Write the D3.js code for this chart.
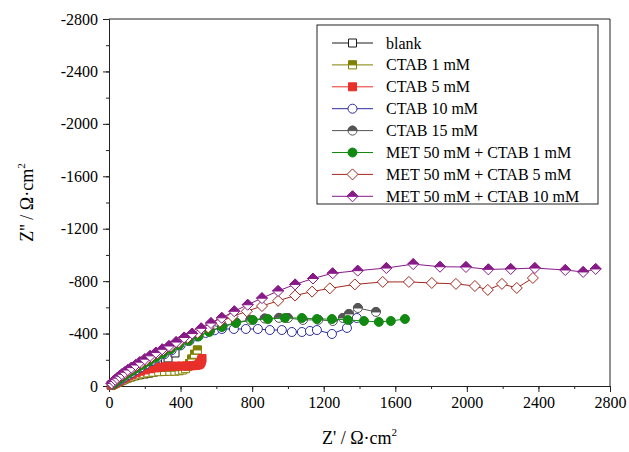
<!DOCTYPE html>
<html>
<head>
<meta charset="utf-8">
<script src="https://cdn.jsdelivr.net/npm/d3@7"></script>
<style>
body { margin: 0; background: #fff; }
text { font-family: "Liberation Serif", "Times New Roman", serif; fill: #000; }
</style>
</head>
<body>
<svg id="chart" width="629" height="452"></svg>
<script>
// Z' and -Z'' pairs (ohm cm2)
const blank = [[12,6],[20,12],[30,19],[42,27],[55,35],[70,44],[86,53],[104,62],[124,71],[146,79],[170,86],[196,92],[222,98],[248,106],[270,120],[288,142],[302,172],[316,196],[330,214],[369,252]];
const ctab1 = [[15,6],[25,12],[36,19],[48,27],[62,36],[78,46],[96,56],[116,66],[138,76],[162,85],[188,93],[216,100],[246,105],[278,109],[310,111],[340,112],[368,113],[392,116],[412,122],[428,132],[440,148],[450,172],[462,206],[478,242],[494,275]];
const ctab5 = [[15,8],[25,16],[35,24],[47,33],[60,43],[75,54],[92,66],[110,78],[130,90],[152,102],[176,113],[202,123],[230,132],[258,139],[288,144],[318,148],[348,150],[378,152],[405,152],[430,153],[452,154],[470,155],[485,157],[497,160],[505,166],[510,174],[514,184],[517,196],[520,210]];
const ctab10 = [[20,12],[35,24],[50,36],[66,50],[84,65],[104,82],[126,100],[150,120],[176,142],[205,165],[237,190],[272,216],[310,243],[350,272],[400,310],[450,345],[492,378],[540,405],[590,425],[631,435],[698,435],[765,435],[832,435],[899,427],[966,427],[1022,412],[1078,412],[1123,420],[1162,427],[1246,397],[1330,443],[1385,519]];
const ctab15 = [[18,14],[32,27],[47,41],[63,56],[82,73],[103,92],[127,113],[153,136],[182,160],[214,186],[250,214],[290,244],[335,276],[385,310],[440,345],[500,382],[565,420],[635,455],[710,485],[790,505],[870,515],[950,520],[1000,519],[1084,504],[1170,505],[1251,496],[1307,519],[1341,550],[1391,595],[1492,565]];
const met1 = [[20,15],[35,30],[50,45],[68,62],[88,80],[110,100],[135,120],[162,142],[192,165],[225,190],[262,218],[302,248],[345,280],[392,312],[445,345],[500,378],[560,412],[631,450],[709,481],[804,504],[888,511],[983,519],[1078,519],[1162,511],[1246,511],[1335,504],[1425,496],[1508,489],[1575,496],[1654,511]];
const met5 = [[15,18],[25,30],[35,42],[46,55],[60,70],[75,85],[92,100],[110,118],[132,136],[155,155],[180,176],[208,198],[238,222],[270,248],[305,275],[345,302],[390,334],[440,368],[495,406],[555,446],[620,490],[690,530],[770,570],[855,610],[945,650],[1040,690],[1135,720],[1234,745],[1374,775],[1530,794],[1676,794],[1804,786],[1939,779],[2045,763],[2117,733],[2196,779],[2279,748],[2369,824]];
const met10 = [[15,20],[25,35],[35,48],[45,60],[58,75],[72,90],[88,105],[105,122],[125,140],[148,160],[172,182],[200,205],[230,230],[262,255],[297,280],[335,305],[375,335],[420,370],[465,400],[515,440],[570,480],[630,520],[700,570],[775,620],[855,670],[945,725],[1040,775],[1140,820],[1250,860],[1390,880],[1550,900],[1700,930],[1850,910],[1995,908],[2120,890],[2245,893],[2380,900],[2550,885],[2650,870],[2720,893]];

const names = ['blank', 'CTAB 1 mM', 'CTAB 5 mM', 'CTAB 10 mM', 'CTAB 15 mM',
  'MET 50 mM + CTAB 1 mM', 'MET 50 mM + CTAB 5 mM', 'MET 50 mM + CTAB 10 mM'];
const values = [blank, ctab1, ctab5, ctab10, ctab15, met1, met5, met10];
const xTicks = [0, 400, 800, 1200, 1600, 2000, 2400, 2800];
const yTicks = [0, 400, 800, 1200, 1600, 2000, 2400, 2800];

const styles = [
  { color: '#1a1a1a', shape: 'square', fill: 'open' },
  { color: '#808000', shape: 'square', fill: 'half' },
  { color: '#e8302a', shape: 'square', fill: 'solid' },
  { color: '#2e2e9e', shape: 'circle', fill: 'open' },
  { color: '#555555', shape: 'circle', fill: 'half' },
  { color: '#128a12', shape: 'circle', fill: 'solid' },
  { color: '#a3281e', shape: 'diamond', fill: 'open' },
  { color: '#881a88', shape: 'diamond', fill: 'half' }
];

const shapes = {
  square: { full: 'M-4,-4H4V4H-4Z', top: 'M-4,-4H4V0H-4Z' },
  circle: { full: 'M-4.5,0A4.5,4.5 0 1 1 4.5,0A4.5,4.5 0 1 1 -4.5,0Z', top: 'M-4.5,0A4.5,4.5 0 0 1 4.5,0Z' },
  diamond: { full: 'M0,-5.5L5.5,0L0,5.5L-5.5,0Z', top: 'M0,-5.5L5.5,0L-5.5,0Z' }
};

const serif = '"Liberation Serif", "Times New Roman", serif';
const margin = { left: 109, right: 19, top: 19, bottom: 66 };
const W = 629, H = 452;

const svg = d3.select('#chart');
const x = d3.scaleLinear().domain([0, 2800]).range([margin.left, W - margin.right]);
const y = d3.scaleLinear().domain([0, 2800]).range([H - margin.bottom, margin.top]);

function marker(g, st) {
  const s = shapes[st.shape];
  g.append('path').attr('d', s.full)
    .attr('fill', st.fill === 'solid' ? st.color : '#fff')
    .attr('stroke', st.color).attr('stroke-width', 1);
  if (st.fill === 'half') {
    g.append('path').attr('d', s.top).attr('fill', st.color)
      .attr('stroke', st.color).attr('stroke-width', 1);
  }
}

// axes
const fmtY = d => d === 0 ? '0' : '-' + d;
const minor = d3.range(0, 2801, 200);

svg.append('g').attr('transform', `translate(0,${y(0)})`)
  .call(d3.axisBottom(x).tickValues(xTicks).tickSize(6).tickPadding(5).tickFormat(d3.format('d')));
svg.append('g').attr('transform', `translate(0,${y(0)})`)
  .call(d3.axisBottom(x).tickValues(minor).tickSize(3).tickFormat(''))
  .select('.domain').remove();
svg.append('g').attr('transform', `translate(${x(0)},0)`)
  .call(d3.axisLeft(y).tickValues(yTicks).tickSize(6).tickPadding(5).tickFormat(fmtY));
svg.append('g').attr('transform', `translate(${x(0)},0)`)
  .call(d3.axisLeft(y).tickValues(minor).tickSize(3).tickFormat(''))
  .select('.domain').remove();

svg.selectAll('g[font-family]').attr('font-family', serif).attr('font-size', 16);
svg.selectAll('.tick text').attr('fill', '#000')
  .style('font-family', serif).style('font-size', '16px');
svg.selectAll('.domain, .tick line').attr('stroke', '#222');

// frame top/right
svg.append('path')
  .attr('d', `M${x(0)},${y(2800)}H${x(2800)}V${y(0)}`)
  .attr('fill', 'none').attr('stroke', '#222');

// series
const line = d3.line().x(d => x(d[0])).y(d => y(d[1]));
values.forEach((data, i) => {
  const st = styles[i];
  const g = svg.append('g');
  g.append('path').datum(data).attr('d', line)
    .attr('fill', 'none').attr('stroke', st.color).attr('stroke-width', 1);
  g.selectAll('g.pt').data(data).enter().append('g')
    .attr('class', 'pt')
    .attr('transform', d => `translate(${x(d[0])},${y(d[1])})`)
    .each(function() { marker(d3.select(this), st); });
});

// legend
const lg = svg.append('g');
lg.append('rect').attr('x', 317).attr('y', 25).attr('width', 281).attr('height', 179)
  .attr('fill', '#fff').attr('stroke', '#222');
names.forEach((n, i) => {
  const st = styles[i];
  const yy = 43 + i * 21.9;
  lg.append('line').attr('x1', 332).attr('x2', 373).attr('y1', yy).attr('y2', yy)
    .attr('stroke', st.color).attr('stroke-width', 1);
  marker(lg.append('g').attr('transform', `translate(352.5,${yy})`), st);
  lg.append('text').attr('x', 386).attr('y', yy + 5.5).style('font-size', '16px').text(n);
});

// axis titles
const xt = svg.append('text').attr('x', (x(0) + x(2800)) / 2).attr('y', 444)
  .attr('text-anchor', 'middle').style('font-size', '18px');
xt.append('tspan').text("Z' / \u03A9\u00B7cm");
xt.append('tspan').attr('dy', -8).style('font-size', '11px').text('2');

const yt = svg.append('text')
  .attr('transform', `translate(33,${(y(0) + y(2800)) / 2}) rotate(-90)`)
  .attr('text-anchor', 'middle').style('font-size', '18px');
yt.append('tspan').text("Z'' / \u03A9\u00B7cm");
yt.append('tspan').attr('dy', -8).style('font-size', '11px').text('2');
</script>
</body>
</html>
